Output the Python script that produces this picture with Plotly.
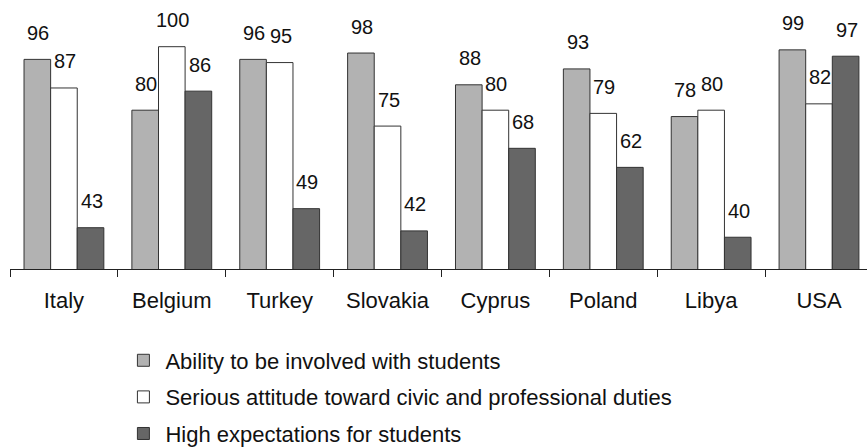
import plotly.graph_objects as go

countries = ["Italy", "Belgium", "Turkey", "Slovakia", "Cyprus", "Poland", "Libya", "USA"]
series_names = [
    "Ability to be involved with students",
    "Serious attitude toward civic and professional duties",
    "High expectations for students",
]
ability = [96, 80, 96, 98, 88, 93, 78, 99]
serious = [87, 100, 95, 75, 80, 79, 80, 82]
expect = [43, 86, 49, 42, 68, 62, 40, 97]

series_values = [ability, serious, expect]
colors = ["#b2b2b2", "#ffffff", "#666666"]
FONT = "Liberation Sans, Arial, sans-serif"

fig = go.Figure()
for i, (name, vals, col) in enumerate(zip(series_names, series_values, colors)):
    fig.add_trace(go.Bar(
        x=countries, y=vals, name=name, legendgroup=f"g{i}",
        marker=dict(color=col, line=dict(color="#333333", width=1)),
    ))

bar_w = 26.7
for i, vals in enumerate(series_values):
    for c, v in zip(countries, vals):
        fig.add_annotation(
            x=c, y=v, xref="x", yref="y", text=str(v), showarrow=False,
            xshift=(i - 1) * bar_w + 1, yshift=26.5, yanchor="middle",
            font=dict(family=FONT, size=20, color="#111111"),
        )

fig.update_layout(
    width=867, height=447,
    margin=dict(l=10, r=0, t=0, b=178, autoexpand=False),
    paper_bgcolor="white", plot_bgcolor="white",
    barmode="group", bargap=0.26, bargroupgap=0,
    font=dict(family=FONT, size=20, color="#111111"),
    showlegend=True,
    legend=dict(
        x=0.13, y=0.2405, xanchor="left", yanchor="top", yref="container",
        orientation="v", traceorder="grouped", tracegroupgap=5,
        itemwidth=34,
        font=dict(family=FONT, size=22, color="#111111"),
        bgcolor="rgba(0,0,0,0)",
    ),
    xaxis=dict(
        range=[-0.5, 7.445], showline=True, linecolor="#222222", linewidth=1,
        ticks="outside", tickson="boundaries", ticklen=7, tickcolor="#222222",
        ticklabelstandoff=12,
        showgrid=False, zeroline=False,
        tickfont=dict(family=FONT, size=22, color="#111111"),
    ),
    yaxis=dict(
        range=[30, 114.7], visible=False, showgrid=False, zeroline=False,
    ),
)

fig.write_html("out.html")
